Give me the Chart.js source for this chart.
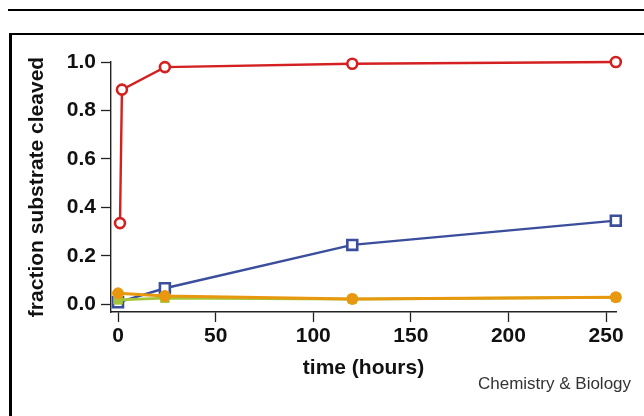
<!DOCTYPE html>
<html>
<head>
<meta charset="utf-8">
<script src="https://cdn.jsdelivr.net/npm/chart.js@4/dist/chart.umd.min.js"></script>
<style>
  html, body { margin: 0; padding: 0; background: #fff; }
  #wrap { position: relative; width: 644px; height: 416px; overflow: hidden; }
  .frame { position: absolute; background: #000; }
  #c { position: absolute; left: 0; top: 0; }
  #credit { position: absolute; left: 478px; top: 374px; font: 17px "Liberation Sans", Arial, sans-serif; color: #333; white-space: nowrap; }
</style>
</head>
<body>
<div id="wrap">
  <div class="frame" style="left:8px;top:9px;width:636px;height:2px;"></div>
  <div class="frame" style="left:9px;top:33px;width:635px;height:2px;"></div>
  <div class="frame" style="left:9px;top:33px;width:3px;height:383px;"></div>
  <canvas id="c" width="644" height="416"></canvas>
  <div id="credit">Chemistry &amp; Biology</div>
</div>
<script>
// Data
const redTime    = [1, 2, 24, 120, 255];
const redValues  = [0.335, 0.886, 0.979, 0.993, 1.0];
const blueTime   = [0, 24, 120, 255];
const blueValues = [0.008, 0.066, 0.245, 0.345];
const greenTime  = [0, 24, 120, 255];
const greenValues= [0.018, 0.025, 0.021, 0.028];
const orangeTime = [0, 24, 120, 255];
const orangeValues=[0.045, 0.034, 0.022, 0.029];
const xTicks = [0, 50, 100, 150, 200, 250];
const yTicks = [0.0, 0.2, 0.4, 0.6, 0.8, 1.0];
const xTitle = 'time (hours)';
const yTitle = 'fraction substrate cleaved';

function pts(t, v) { return t.map((x, i) => ({ x: x, y: v[i] })); }

const boldFont = { family: '"Liberation Sans", Arial, Helvetica, sans-serif', size: 21, weight: 'bold' };

new Chart(document.getElementById('c'), {
  type: 'line',
  data: {
    datasets: [
      { label: 'orange', data: pts(orangeTime, orangeValues), borderColor: '#E8980E', backgroundColor: '#E8980E',
        borderWidth: 3, pointStyle: 'circle', pointRadius: 5.5, pointBorderWidth: 1, order: 0 },
      { label: 'green', data: pts(greenTime, greenValues), borderColor: '#A6C43A', backgroundColor: '#A6C43A',
        borderWidth: 2.8, pointStyle: 'rect', pointRadius: 6, pointBorderWidth: 1, order: 1 },
      { label: 'red', data: pts(redTime, redValues), borderColor: '#D42020', backgroundColor: '#ffffff',
        borderWidth: 2.4, pointStyle: 'circle', pointRadius: 5, pointBorderWidth: 2.6, order: 2 },
      { label: 'blue', data: pts(blueTime, blueValues), borderColor: '#3A4E9C', backgroundColor: '#ffffff',
        borderWidth: 2.4, pointStyle: 'rect', pointRadius: 7, pointBorderWidth: 2.6, order: 3 }
    ]
  },
  options: {
    responsive: false,
    animation: false,
    events: [],
    clip: false,
    elements: { line: { tension: 0 } },
    layout: { padding: { left: 0, top: 62, right: 28, bottom: 0 } },
    plugins: { legend: { display: false }, tooltip: { enabled: false } },
    scales: {
      x: {
        type: 'linear',
        min: -3.6,
        max: 255.1,
        afterFit: s => { s.height = 104; },
        afterBuildTicks: s => { s.ticks = xTicks.map(v => ({ value: v })); },
        grid: { drawOnChartArea: false, drawTicks: true, tickLength: 10, tickColor: '#222', tickWidth: 1.3 },
        border: { display: true, color: '#222', width: 1.4 },
        ticks: { color: '#111', font: boldFont, padding: 2, callback: v => String(v) },
        title: { display: true, text: xTitle, color: '#111', font: boldFont, padding: { top: 0, bottom: 35 } }
      },
      y: {
        type: 'linear',
        min: -0.032,
        max: 1.0,
        afterFit: s => { s.width = 111; },
        afterBuildTicks: s => { s.ticks = yTicks.map(v => ({ value: v })); },
        grid: { drawOnChartArea: false, drawTicks: true, tickLength: 10, tickColor: '#222', tickWidth: 1.3 },
        border: { display: true, color: '#222', width: 1.4 },
        ticks: { color: '#111', font: boldFont, padding: 5, callback: v => Number(v).toFixed(1) },
        title: { display: true, text: yTitle, color: '#111', font: boldFont, padding: { top: 25, bottom: 0 } }
      }
    }
  }
});
</script>
</body>
</html>
